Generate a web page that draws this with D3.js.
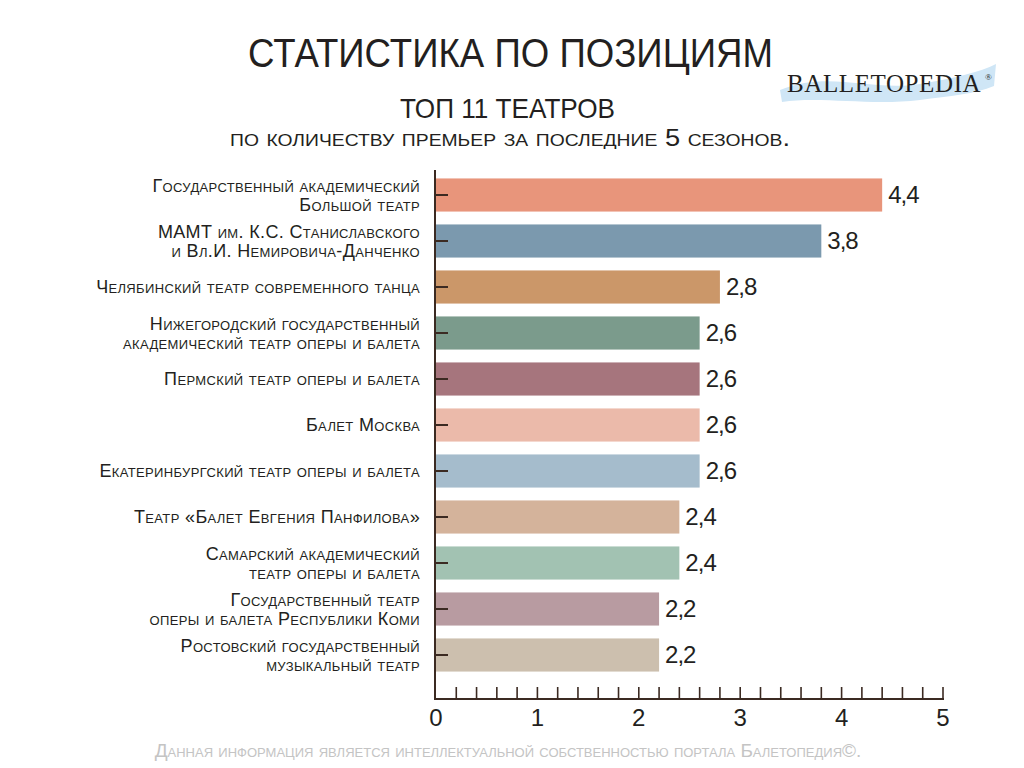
<!DOCTYPE html>
<html>
<head>
<meta charset="utf-8">
<script src="https://cdn.jsdelivr.net/npm/d3@7"></script>
<style>
  body { margin: 0; background: #fff; }
  text { fill: #231f20; }
  .sc { font-variant: small-caps; }
</style>
</head>
<body>
<script>
// data
var theatres = [
  ["Государственный академический", "Большой театр"],
  ["МАМТ им. К.С. Станиславского", "и Вл.И. Немировича-Данченко"],
  ["Челябинский театр современного танца"],
  ["Нижегородский государственный", "академический театр оперы и балета"],
  ["Пермский театр оперы и балета"],
  ["Балет Москва"],
  ["Екатеринбургский театр оперы и балета"],
  ["Театр «Балет Евгения Панфилова»"],
  ["Самарский академический", "театр оперы и балета"],
  ["Государственный театр", "оперы и балета Республики Коми"],
  ["Ростовский государственный", "музыкальный театр"]
];
var premieres = [4.4, 3.8, 2.8, 2.6, 2.6, 2.6, 2.6, 2.4, 2.4, 2.2, 2.2];
var barColors = ["#e8957b", "#7b99ae", "#cb9769", "#7b9b8c", "#a6757d", "#ebbaaa",
                 "#a5bccc", "#d4b39b", "#a2c2b2", "#b89ba1", "#ccbfae"];
var xTicks = [0, 1, 2, 3, 4, 5];

var width = 1024, height = 768;
var font = "'Liberation Sans', Arial, sans-serif";
var ink = "#3b2a22";

var svg = d3.select("body").append("svg")
  .attr("width", width)
  .attr("height", height)
  .style("font-family", font);

var x = d3.scaleLinear().domain([0, 5]).range([436, 943]);
var y = d3.scaleBand()
  .domain(d3.range(theatres.length))
  .range([172, 678])
  .paddingInner(0.28)
  .paddingOuter(0.14);

// titles (condensed to the reference widths)
svg.append("text")
  .attr("x", 248).attr("y", 67)
  .attr("textLength", 525)
  .attr("lengthAdjust", "spacingAndGlyphs")
  .style("font-size", "41px")
  .text("СТАТИСТИКА ПО ПОЗИЦИЯМ");

svg.append("text")
  .attr("x", 400).attr("y", 118)
  .attr("textLength", 215)
  .attr("lengthAdjust", "spacingAndGlyphs")
  .style("font-size", "28px")
  .text("ТОП 11 ТЕАТРОВ");

svg.append("text")
  .attr("class", "sc")
  .attr("x", 230).attr("y", 146)
  .attr("textLength", 560)
  .attr("lengthAdjust", "spacingAndGlyphs")
  .style("font-size", "24px")
  .text("по количеству премьер за последние 5 сезонов.");

// logo
var logo = svg.append("g");
logo.append("path")
  .attr("d", "M780,90 C830,70 870,92 920,84 C955,78 980,72 996,64 L994,86 C975,94 950,96 920,100 C870,106 820,96 782,102 Z")
  .style("fill", "#cfe6f6");
logo.append("text")
  .attr("x", 787).attr("y", 92)
  .style("font-family", "'Liberation Serif', 'DejaVu Serif', serif")
  .style("font-size", "25px")
  .style("letter-spacing", "0.6px")
  .text("BALLETOPEDIA");
logo.append("text")
  .attr("x", 985).attr("y", 80)
  .style("font-family", "'Liberation Serif', serif")
  .style("font-size", "9px")
  .text("®");

// bars
svg.append("g")
  .selectAll("rect")
  .data(premieres)
  .enter().append("rect")
  .attr("x", x(0))
  .attr("y", function (d, i) { return y(i); })
  .attr("width", function (d) { return x(d) - x(0); })
  .attr("height", y.bandwidth())
  .style("fill", function (d, i) { return barColors[i]; });

// value labels
svg.append("g")
  .selectAll("text")
  .data(premieres)
  .enter().append("text")
  .attr("x", function (d) { return x(d) + 6; })
  .attr("y", function (d, i) { return y(i) + y.bandwidth() / 2 + 8; })
  .style("font-size", "24px")
  .style("letter-spacing", "-1px")
  .text(function (d) { return String(d).replace(".", ","); });

// category labels, one text per line
svg.append("g")
  .selectAll("g")
  .data(theatres)
  .enter().append("g")
  .each(function (lines, i) {
    var cy = y(i) + y.bandwidth() / 2;
    var g = d3.select(this);
    lines.forEach(function (line, k) {
      var off = (k - (lines.length - 1) / 2) * 19;
      g.append("text")
        .attr("class", "sc")
        .attr("text-anchor", "end")
        .attr("x", 420)
        .attr("y", cy + off + 6)
        .style("font-size", "18px")
        .style("letter-spacing", "0.35px")
        .text(line);
    });
  });

// left axis
svg.append("line")
  .attr("x1", x(0) - 1).attr("x2", x(0) - 1)
  .attr("y1", 170).attr("y2", 700)
  .style("stroke", ink).style("stroke-width", 2);

svg.append("g")
  .selectAll("line")
  .data(theatres)
  .enter().append("line")
  .attr("x1", x(0) - 1).attr("x2", x(0) + 12)
  .attr("y1", function (d, i) { return y(i) + y.bandwidth() / 2; })
  .attr("y2", function (d, i) { return y(i) + y.bandwidth() / 2; })
  .style("stroke", ink).style("stroke-width", 2);

// bottom axis: minor ticks every 0.2 pointing up
var minor = d3.range(1, 26).map(function (k) { return k / 5; });
svg.append("line")
  .attr("x1", x(0) - 2).attr("x2", x(5) + 1)
  .attr("y1", 699).attr("y2", 699)
  .style("stroke", ink).style("stroke-width", 2);

svg.append("g")
  .selectAll("line")
  .data(minor)
  .enter().append("line")
  .attr("x1", function (d) { return x(d); })
  .attr("x2", function (d) { return x(d); })
  .attr("y1", 699).attr("y2", 687)
  .style("stroke", ink).style("stroke-width", 1.6);

svg.append("g")
  .selectAll("text")
  .data(xTicks)
  .enter().append("text")
  .attr("x", function (d) { return x(d); })
  .attr("y", 726)
  .attr("text-anchor", "middle")
  .style("font-size", "24px")
  .text(function (d) { return d; });

// footer
svg.append("text")
  .attr("class", "sc")
  .attr("x", 508).attr("y", 757)
  .attr("text-anchor", "middle")
  .style("font-size", "19px")
  .style("fill", "#c4c4c4")
  .text("Данная информация является интеллектуальной собственностью портала Балетопедия©.");
</script>
</body>
</html>
